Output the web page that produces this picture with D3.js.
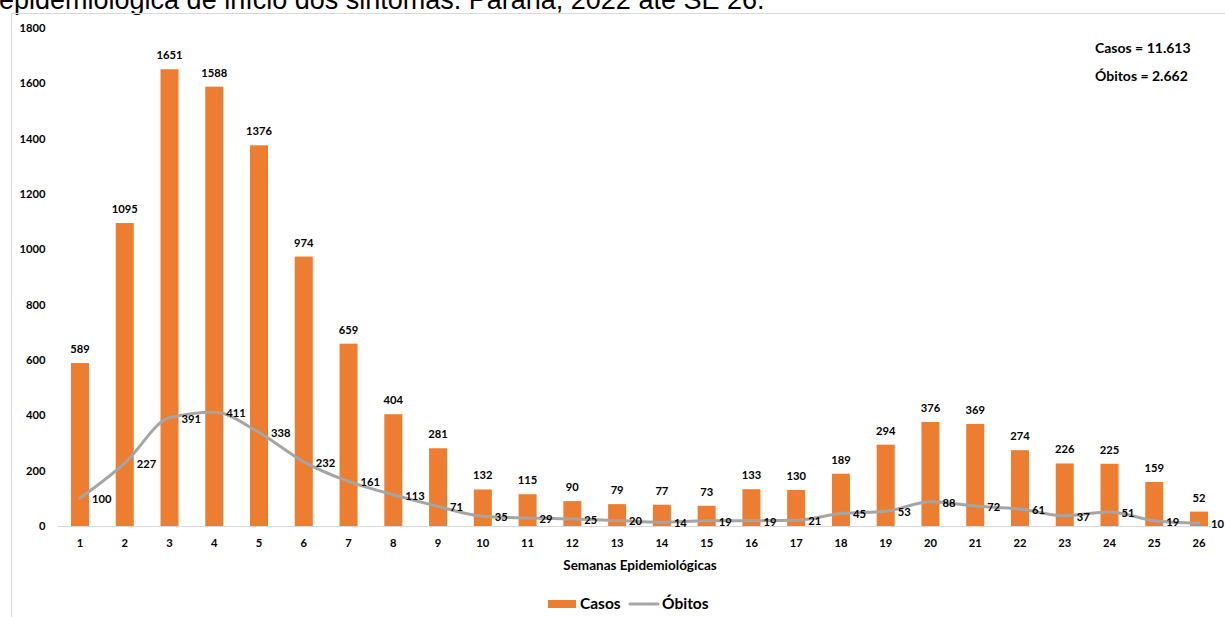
<!DOCTYPE html>
<html>
<head>
<meta charset="utf-8">
<script src="https://cdn.jsdelivr.net/npm/d3@7"></script>
<style>
  html, body { margin: 0; padding: 0; background: #fff; }
  svg { display: block; }
  .lbl { font-family: Lato, "Noto Sans", sans-serif; font-weight: 700; fill: #000; }
</style>
</head>
<body>
<svg id="chart" width="1225" height="617"></svg>
<script>
// Semanas epidemiológicas 1–26, Paraná 2022
const semanas = d3.range(1, 27).map(String);
const casos = [589, 1095, 1651, 1588, 1376, 974, 659, 404, 281, 132, 115, 90, 79, 77, 73, 133, 130, 189, 294, 376, 369, 274, 226, 225, 159, 52];
const obitos = [100, 227, 391, 411, 338, 232, 161, 113, 71, 35, 29, 25, 20, 14, 19, 19, 21, 45, 53, 88, 72, 61, 37, 51, 19, 10];
const yTicks = [0, 200, 400, 600, 800, 1000, 1200, 1400, 1600, 1800];
const totais = ["Casos = 11.613", "Óbitos = 2.662"];

const orange = "#ED7D31", gray = "#A5A5A5";
const svg = d3.select("#chart");

// Title line (continues from above the frame)
svg.append("text")
  .attr("x", -1).attr("y", 8.5)
  .attr("font-family", "Liberation Sans, Arial, sans-serif")
  .attr("font-size", 27)
  .attr("fill", "#000")
  .text("epidemiológica de início dos sintomas. Paraná, 2022 até SE 26.");

// Chart frame
svg.append("path")
  .attr("d", "M11.5,617 V13.5 H1225")
  .attr("fill", "none").attr("stroke", "#D9D9D9").attr("stroke-width", 1);

const x = d3.scaleBand().domain(semanas).range([57.6, 1221.4]).paddingInner(0.6).paddingOuter(0.3);
const y = d3.scaleLinear().domain([0, 1800]).range([526, 28]);

const fs = 11.2;

// Y axis labels
svg.append("g").selectAll("text").data(yTicks).join("text")
  .attr("class", "lbl").attr("font-size", fs)
  .attr("x", 45.5).attr("y", d => y(d)).attr("dy", "0.35em")
  .attr("text-anchor", "end").text(d => d);

// Bars
const bw = 18;
const cx = d => x(d) + x.bandwidth() / 2;
svg.append("g").selectAll("rect").data(casos).join("rect")
  .attr("x", (d, i) => cx(semanas[i]) - bw / 2)
  .attr("y", d => y(d))
  .attr("width", bw)
  .attr("height", d => y(0) - y(d))
  .attr("fill", orange);

// Baseline
svg.append("line")
  .attr("x1", 58).attr("x2", 1214).attr("y1", y(0) + 0.5).attr("y2", y(0) + 0.5)
  .attr("stroke", "#D9D9D9").attr("stroke-width", 1);

// X axis labels
svg.append("g").selectAll("text").data(semanas).join("text")
  .attr("class", "lbl").attr("font-size", fs)
  .attr("x", d => cx(d)).attr("y", 543).attr("dy", "0.35em")
  .attr("text-anchor", "middle").text(d => d);

// Bar value labels
svg.append("g").selectAll("text").data(casos).join("text")
  .attr("class", "lbl").attr("font-size", fs)
  .attr("x", (d, i) => cx(semanas[i])).attr("y", d => y(d) - 10)
  .attr("text-anchor", "middle").text(d => d);

// Deaths line
const line = d3.line()
  .x((d, i) => cx(semanas[i]))
  .y(d => y(d))
  .curve(d3.curveMonotoneX);
svg.append("path").datum(obitos)
  .attr("d", line)
  .attr("fill", "none").attr("stroke", gray).attr("stroke-width", 3)
  .attr("stroke-linecap", "round").attr("stroke-linejoin", "round");

// Line value labels (to the right of each point)
svg.append("g").selectAll("text").data(obitos).join("text")
  .attr("class", "lbl").attr("font-size", fs)
  .attr("x", (d, i) => cx(semanas[i]) + 12).attr("y", d => y(d) + 1).attr("dy", "0.35em")
  .attr("text-anchor", "start").text(d => d);

// Totals
svg.append("g").selectAll("text").data(totais).join("text")
  .attr("class", "lbl").attr("font-size", 14)
  .attr("x", 1095).attr("y", (d, i) => 48 + i * 28).attr("dy", "0.35em")
  .text(d => d);

// Axis title
svg.append("text")
  .attr("class", "lbl").attr("font-size", 13.5)
  .attr("x", 640).attr("y", 565).attr("dy", "0.35em")
  .attr("text-anchor", "middle").text("Semanas Epidemiológicas");

// Legend
const lg = svg.append("g").attr("transform", "translate(0,604)");
lg.append("rect").attr("x", 548).attr("y", -4).attr("width", 28).attr("height", 8).attr("fill", orange);
lg.append("text").attr("class", "lbl").attr("font-size", 15.5).attr("x", 580).attr("dy", "0.35em").text("Casos");
lg.append("line").attr("x1", 630).attr("x2", 658).attr("y1", 0).attr("y2", 0)
  .attr("stroke", gray).attr("stroke-width", 3).attr("stroke-linecap", "round");
lg.append("text").attr("class", "lbl").attr("font-size", 15.5).attr("x", 662).attr("dy", "0.35em").text("Óbitos");
</script>
</body>
</html>
